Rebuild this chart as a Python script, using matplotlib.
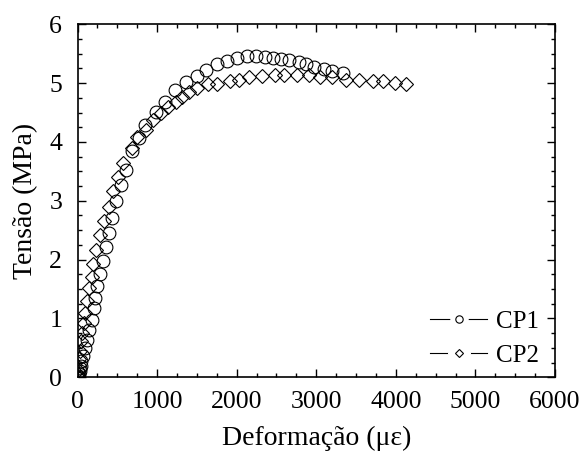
import matplotlib
matplotlib.use('Agg')
import matplotlib.pyplot as plt
from matplotlib.lines import Line2D
from matplotlib.legend_handler import HandlerTuple
from matplotlib.ticker import MultipleLocator

plt.rcParams['font.family'] = ['Liberation Serif', 'DejaVu Serif']

#  CP1 (circles): strain [micro-strain], stress [MPa]
cp1_x = [5, 12, 19, 27, 34, 41, 49, 63, 92, 122, 147, 176, 201, 219, 248,
         281, 319, 361, 394, 436, 487, 541, 612, 688, 772, 843, 982, 1098,
         1220, 1367, 1497, 1619, 1748, 1875, 2009, 2127, 2240, 2353, 2462,
         2554, 2659, 2777, 2868, 2973, 3091, 3204, 3330]
cp1_y = [0.0, 0.03, 0.06, 0.10, 0.15, 0.20, 0.27, 0.36, 0.50, 0.64, 0.80,
         0.98, 1.18, 1.35, 1.55, 1.75, 1.98, 2.21, 2.45, 2.71, 3.00, 3.27,
         3.53, 3.84, 4.06, 4.29, 4.51, 4.68, 4.88, 5.02, 5.12, 5.22, 5.32,
         5.38, 5.43, 5.46, 5.46, 5.45, 5.43, 5.41, 5.39, 5.36, 5.32, 5.28,
         5.24, 5.21, 5.17]

#  CP2 (diamonds)
cp2_x = [3, 8, 12, 17, 25, 38, 59, 80, 92, 113, 147, 176, 198, 235, 281,
         331, 394, 449, 512, 575, 679, 751, 855, 953, 1044, 1136, 1233, 1317,
         1401, 1506, 1639, 1757, 1917, 2030, 2155, 2312, 2479, 2596, 2764,
         2910, 3048, 3204, 3372, 3540, 3708, 3834, 3988, 4125]
cp2_y = [0.0, 0.06, 0.12, 0.31, 0.45, 0.62, 0.76, 0.92, 1.10, 1.29, 1.52,
         1.71, 1.92, 2.17, 2.42, 2.65, 2.90, 3.16, 3.41, 3.64, 3.89, 4.09,
         4.20, 4.37, 4.49, 4.60, 4.68, 4.77, 4.85, 4.91, 4.98, 4.99, 5.04,
         5.06, 5.11, 5.12, 5.14, 5.14, 5.14, 5.14, 5.11, 5.10, 5.06, 5.05,
         5.04, 5.03, 5.01, 4.98]

labels = ['CP1', 'CP2']

fig = plt.figure(figsize=(5.82, 4.54), dpi=100)
ax = fig.add_axes([0.1332, 0.169, 0.8204, 0.7775])

#  Plot markers only
ax.plot(cp1_x, cp1_y, linestyle='none', marker='o', markersize=9.2,
        markerfacecolor='none', markeredgecolor='black', markeredgewidth=0.8)
ax.plot(cp2_x, cp2_y, linestyle='none', marker='D', markersize=6.8,
        markerfacecolor='none', markeredgecolor='black', markeredgewidth=0.8)

#  Configure axes
ax.set_xlim(0, 6000)
ax.set_ylim(0, 6)
ax.xaxis.set_major_locator(MultipleLocator(1000))
ax.xaxis.set_minor_locator(MultipleLocator(250))
ax.yaxis.set_major_locator(MultipleLocator(1))
ax.yaxis.set_minor_locator(MultipleLocator(0.25))
ax.tick_params(which='both', direction='in', top=True, right=True,
               labelsize=18.5, width=1.0)
ax.tick_params(which='major', length=6)
ax.tick_params(which='minor', length=3)
ax.tick_params(axis='x', which='major', pad=10)
ax.tick_params(axis='y', which='major', pad=11)
for sp in ax.spines.values():
    sp.set_linewidth(1.2)

ax.set_xlabel('Deformação (με)', fontsize=20, labelpad=9)
ax.set_ylabel('Tensão (MPa)', fontsize=20, labelpad=8)

#  Legend handles: line, white gap, open marker (all overlaid)
handles = []
for mk, ms in [('o', 5.3), ('D', 3.9)]:
    line = Line2D([], [], color='black', linewidth=0.8)
    gap = Line2D([], [], linestyle='none', marker=mk, markersize=ms + 7,
                 markerfacecolor='white', markeredgecolor='white')
    sym = Line2D([], [], linestyle='none', marker=mk, markersize=ms,
                 markerfacecolor='white', markeredgecolor='black',
                 markeredgewidth=0.8)
    handles.append((line, gap, sym))
ax.legend(handles, labels, loc='upper left', bbox_to_anchor=(0.738, 0.19),
          frameon=False, fontsize=18, handlelength=2.3, handletextpad=0.35,
          labelspacing=0.46, borderpad=0, borderaxespad=0,
          handler_map={tuple: HandlerTuple(ndivide=1)})

fig.savefig('out.png', dpi=100)
